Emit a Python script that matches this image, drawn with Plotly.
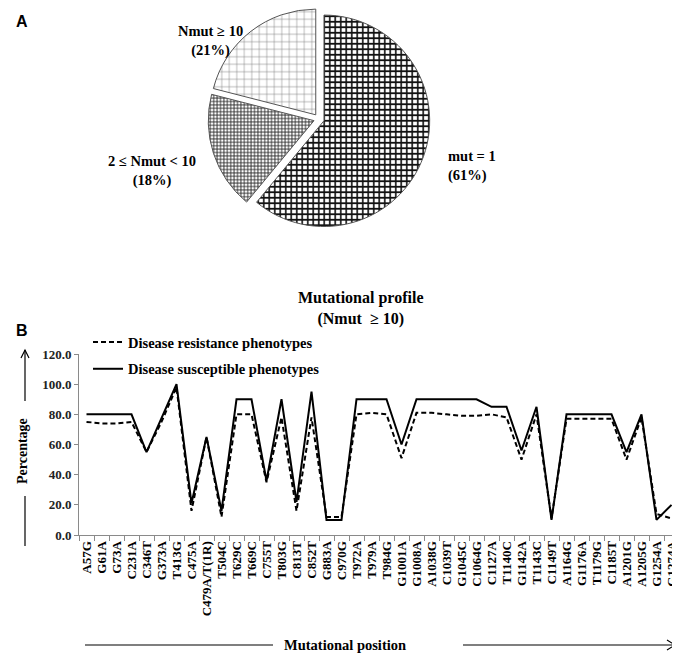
import plotly.graph_objects as go

W, H = 680, 657

# ---------------- data ----------------
pie_labels = ["mut = 1", "2 \u2264 Nmut < 10", "Nmut \u2265 10"]
pie_values = [61, 18, 21]

mutations = ["A57G", "G61A", "G73A", "C231A", "C346T", "G373A", "T413G", "C475A",
             "C479A/T(1R)", "T504C", "T629C", "T669C", "C755T", "T803G", "C813T",
             "C852T", "G883A", "C970G", "T972A", "T979A", "T984G", "G1001A",
             "G1008A", "A1038G", "C1039T", "G1045C", "C1064G", "C1127A", "T1140C",
             "G1142A", "T1143C", "C1149T", "A1164G", "G1176A", "T1179G", "C1185T",
             "A1201G", "A1205G", "G1254A", "G1274A"]

resistance = [75, 74, 74, 75, 55, 75, 98, 16, 65, 12, 80, 80, 35, 78, 16,
              78, 12, 12, 80, 81, 80, 51, 81, 81, 80, 79, 79, 80, 78,
              50, 80, 11, 77, 77, 77, 77, 50, 78, 14, 11]

susceptible = [80, 80, 80, 80, 55, 78, 100, 21, 65, 16, 90, 90, 36, 90, 22,
               95, 10, 10, 90, 90, 90, 60, 90, 90, 90, 90, 90, 85, 85,
               56, 85, 10, 80, 80, 80, 80, 55, 80, 10, 20]

y_ticks = [0, 20, 40, 60, 80, 100, 120]

SERIF = "Liberation Serif"
SANS = "Liberation Sans"


def px(x):
    return x / W


def py(y):
    return 1 - y / H


fig = go.Figure()

# ---------------- pie (A) ----------------
fig.add_trace(go.Pie(
    labels=pie_labels,
    values=pie_values,
    sort=False,
    direction="clockwise",
    rotation=0,
    pull=[0.05, 0.05, 0.05],
    textinfo="none",
    hoverinfo="skip",
    showlegend=False,
    marker=dict(
        colors=["white", "white", "white"],
        line=dict(color="#555555", width=1),
        pattern=dict(
            shape=["+", "+", "+"],
            size=[5.5, 3.4, 7.5],
            solidity=[0.5, 0.45, 0.13],
            fgcolor=["#111111", "#2a2a2a", "#777777"],
            bgcolor=["white", "white", "white"],
            fillmode="replace",
        ),
    ),
    domain=dict(x=[px(199), px(423)], y=[py(222), 1.0]),
))

# ---------------- line chart (B) ----------------
fig.add_trace(go.Scatter(
    x=mutations, y=resistance, mode="lines",
    name="Disease resistance phenotypes", legendgroup="r",
    line=dict(color="black", width=2, dash="5px,3px"),
    hoverinfo="skip",
))
fig.add_trace(go.Scatter(
    x=mutations, y=susceptible, mode="lines",
    name="Disease susceptible phenotypes", legendgroup="s",
    line=dict(color="black", width=2),
    hoverinfo="skip",
))

fig.update_layout(
    template="none",
    width=W, height=H,
    margin=dict(l=0, r=0, t=0, b=0),
    paper_bgcolor="white",
    plot_bgcolor="white",
    xaxis=dict(
        type="category",
        domain=[px(71), px(671)],
        range=[-0.5, len(mutations) - 0.5],
        tickmode="linear", tick0=0, dtick=1,
        showgrid=False, zeroline=False,
        showline=True, linecolor="#8a8a8a", linewidth=1,
        ticks="outside", tickson="boundaries", ticklen=5, tickcolor="#8a8a8a",
        tickangle=-90,
        ticklabeloverflow="allow",
        tickfont=dict(family=SERIF, size=13, color="black", weight="bold"),
        automargin=False,
    ),
    yaxis=dict(
        domain=[py(527), py(346)],
        range=[0, 120],
        tickvals=y_ticks,
        tickformat=".1f",
        showgrid=False, zeroline=False,
        showline=True, linecolor="#8a8a8a", linewidth=1,
        ticks="outside", ticklen=4, tickcolor="#8a8a8a",
        tickfont=dict(family=SERIF, size=13, color="#222222", weight="bold"),
        automargin=False,
    ),
    legend=dict(
        x=px(80), y=py(318), xanchor="left", yanchor="top",
        bgcolor="rgba(0,0,0,0)",
        font=dict(family=SERIF, size=14.5, color="black", weight="bold"),
        tracegroupgap=5,
        traceorder="grouped",
    ),
)

# ---------------- annotations ----------------
total = sum(pie_values)
pie_label_pos = [
    (438, 158, "left"),
    (144, 163, "center"),
    (202, 33, "center"),
]
annotations = []
for lab, val, (ax_, ay_, anc) in zip(pie_labels, pie_values, pie_label_pos):
    pct = round(100 * val / total)
    annotations.append(dict(
        text=f"{lab}<br>({pct}%)", x=px(ax_), y=py(ay_), xref="paper", yref="paper",
        xanchor=anc, yanchor="middle", align=anc, showarrow=False,
        font=dict(family=SERIF, size=14.5, color="black", weight="bold"),
    ))

annotations += [
    dict(text="Mutational profile<br>(Nmut  \u2265 10)", x=px(352), y=py(300),
         xref="paper", yref="paper", showarrow=False,
         xanchor="center", yanchor="middle", align="center",
         font=dict(family=SERIF, size=16, color="black", weight="bold")),
    dict(text="A", x=px(14), y=py(13), xref="paper", yref="paper", showarrow=False,
         xanchor="center", yanchor="middle",
         font=dict(family=SANS, size=16, color="black", weight="bold")),
    dict(text="B", x=px(14), y=py(322), xref="paper", yref="paper", showarrow=False,
         xanchor="center", yanchor="middle",
         font=dict(family=SANS, size=16, color="black", weight="bold")),
    dict(text="Percentage", x=px(14), y=py(443), xref="paper", yref="paper",
         showarrow=False, textangle=-90, xanchor="center", yanchor="middle",
         font=dict(family=SERIF, size=14, color="black", weight="bold")),
    dict(text="Mutational position", x=px(337), y=py(637), xref="paper", yref="paper",
         showarrow=False, xanchor="center", yanchor="middle",
         font=dict(family=SERIF, size=14.5, color="black", weight="bold")),
]
fig.update_layout(annotations=annotations)

# decorative axis arrows
line_style = dict(color="black", width=1.2)
shapes = [
    dict(type="line", xref="paper", yref="paper", x0=px(17), y0=py(393), x1=px(17), y1=py(342), line=line_style),
    dict(type="path", xref="paper", yref="paper",
         path=f"M {px(13)},{py(350)} L {px(17)},{py(342)} L {px(21)},{py(350)}", line=line_style),
    dict(type="line", xref="paper", yref="paper", x0=px(17), y0=py(488), x1=px(17), y1=py(538), line=line_style),
    dict(type="line", xref="paper", yref="paper", x0=px(77), y0=py(637), x1=px(265), y1=py(637), line=line_style),
    dict(type="line", xref="paper", yref="paper", x0=px(455), y0=py(637), x1=px(667), y1=py(637), line=line_style),
    dict(type="path", xref="paper", yref="paper",
         path=f"M {px(659)},{py(632)} L {px(667)},{py(637)} L {px(659)},{py(642)}", line=line_style),
]
fig.update_layout(shapes=shapes)

fig.write_html("out.html")
